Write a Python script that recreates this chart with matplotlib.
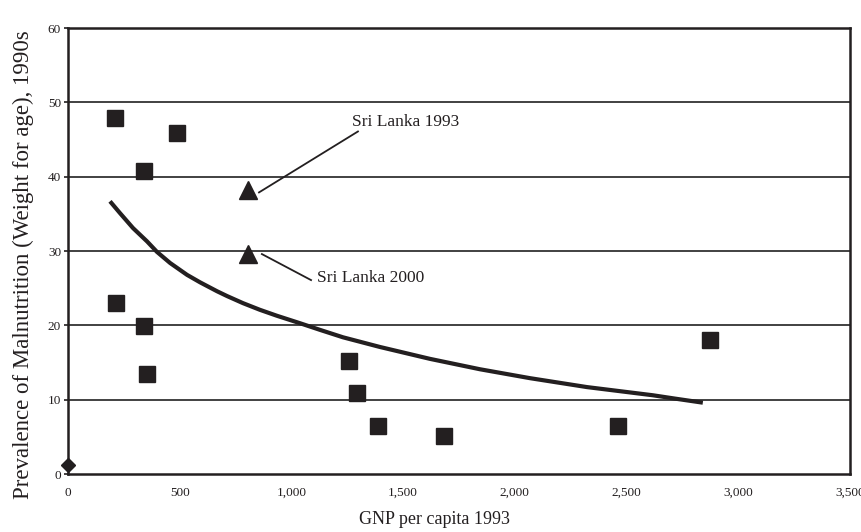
import matplotlib.pyplot as plt
import numpy as np

# Länder (Quadrate): GNP pro Kopf 1993 und Unterernährung
gnp_countries = [210, 490, 340, 215, 340, 354, 1258, 1293, 1387, 1683, 2462, 2873]
malnut_countries = [47.9, 45.9, 40.8, 23.0, 19.9, 13.5, 15.2, 10.9, 6.5, 5.1, 6.5, 18.0]

# Sri Lanka (Dreiecke)
gnp_srilanka = [806, 806]
malnut_srilanka = [38.2, 29.6]
srilanka_labels = ["Sri Lanka 1993", "Sri Lanka 2000"]

# Einzelpunkt (Raute) bei Null
gnp_zero = [0]
malnut_zero = [1.2]

# Trendkurve
trend_x = [188, 233, 291, 354, 398, 457, 533, 591, 667, 712, 783, 859, 935,
           1038, 1128, 1231, 1396, 1620, 1844, 2068, 2323, 2618, 2717, 2842]
trend_y = [36.7, 35.1, 33.1, 31.3, 29.9, 28.4, 26.8, 25.8, 24.6, 23.95, 23.0, 22.1, 21.3,
           20.3, 19.4, 18.4, 17.1, 15.5, 14.1, 12.9, 11.7, 10.6, 10.15, 9.6]

x_ticks = [0, 500, 1000, 1500, 2000, 2500, 3000, 3500]
x_tick_labels = ["0", "500", "1,000", "1,500", "2,000", "2,500", "3,000", "3,500"]
y_ticks = [0, 10, 20, 30, 40, 50, 60]

ink = "#231f20"
plt.rcParams["font.family"] = ["Liberation Serif", "DejaVu Serif"]

fig = plt.figure(figsize=(8.61, 5.32), dpi=100)
ax = fig.add_axes([0.079, 0.109, 0.908, 0.838])

for y in y_ticks[1:-1]:
    ax.axhline(y, color="#333333", linewidth=1.3, zorder=1)

ax.plot(trend_x, trend_y, color=ink, linewidth=3, solid_capstyle="butt",
        solid_joinstyle="round", zorder=2)
ax.plot(gnp_countries, malnut_countries, "s", color=ink, markersize=11, zorder=3)
ax.plot(gnp_srilanka, malnut_srilanka, "^", color=ink, markersize=13, zorder=3)
ax.plot(gnp_zero, malnut_zero, "D", color=ink, markersize=7, zorder=4, clip_on=False)

# Zeigerlinien und Beschriftungen
pointer_lines = [((1298, 46.1), (855, 37.9)), ((868, 29.6), (1088, 26.1))]
for (x0, y0), (x1, y1) in pointer_lines:
    ax.plot([x0, x1], [y0, y1], color=ink, linewidth=1.3, zorder=2)
ax.text(1271, 47.4, srilanka_labels[0], fontsize=12.5, ha="left", va="center", color=ink)
ax.text(1114, 26.4, srilanka_labels[1], fontsize=12.5, ha="left", va="center", color=ink)

ax.set_xlim(0, 3500)
ax.set_ylim(0, 60)
ax.set_xticks(x_ticks)
ax.set_xticklabels(x_tick_labels, fontsize=9.5, color=ink)
ax.set_yticks(y_ticks)
ax.set_yticklabels([str(v) for v in y_ticks], fontsize=9.5, color=ink)
ax.tick_params(axis="x", length=0, pad=9)
ax.tick_params(axis="y", length=3, width=1.2, color=ink, pad=2)

for spine in ax.spines.values():
    spine.set_linewidth(1.8)
    spine.set_color(ink)

ax.set_xlabel("GNP per capita 1993", fontsize=13, color=ink)
ax.xaxis.set_label_coords(0.469, -0.103)
ax.xaxis.label.set_va("center")
ax.set_ylabel("Prevalence of Malnutrition (Weight for age), 1990s",
              fontsize=16.5, color=ink)
ax.yaxis.set_label_coords(-0.057, 0.47)
ax.yaxis.label.set_va("center")

fig.savefig("out.png", dpi=100)
plt.close(fig)
